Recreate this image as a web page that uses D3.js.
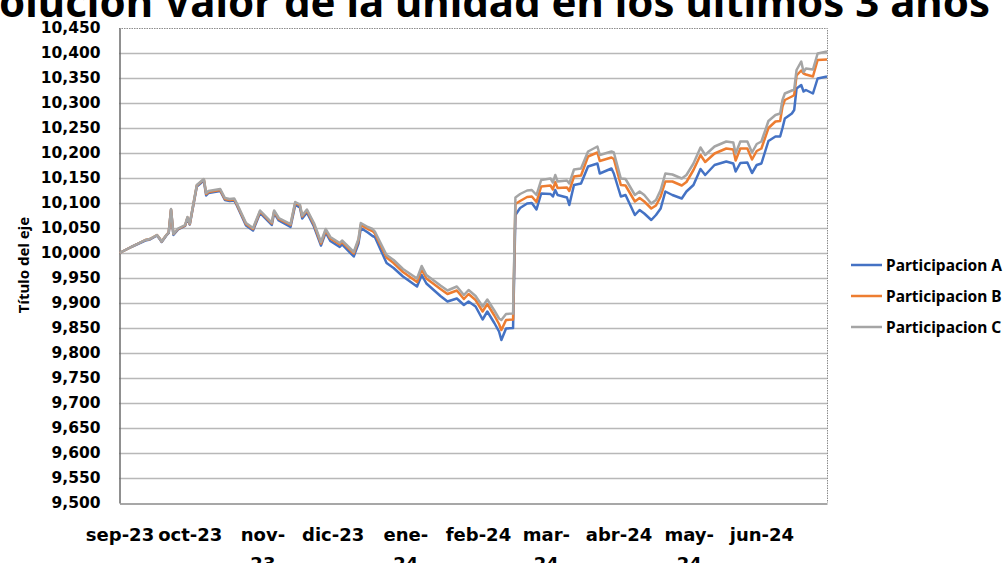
<!DOCTYPE html>
<html>
<head>
<meta charset="utf-8">
<script src="https://cdn.jsdelivr.net/npm/d3@7"></script>
<style>
body { margin: 0; background: #ffffff; overflow: hidden; }
</style>
</head>
<body>
<div id="svg"></div>
<script>
var width = 1005;
var height = 563;
var plot_left = 119;
var plot_right = 827;
var plot_top = 28;
var plot_bottom = 503;

var title_text = 'Evolución Valor de la unidad en los últimos 3 años';
var y_title = 'Título del eje';

var dates = [
	'2023-09-01','2023-09-06','2023-09-12','2023-09-14','2023-09-17','2023-09-18','2023-09-19','2023-09-21','2023-09-22','2023-09-23','2023-09-24','2023-09-26','2023-09-29','2023-09-30',
	'2023-10-01','2023-10-04','2023-10-07','2023-10-08','2023-10-09','2023-10-14','2023-10-16','2023-10-18','2023-10-20','2023-10-21','2023-10-25','2023-10-28','2023-10-31',
	'2023-11-05','2023-11-06','2023-11-08','2023-11-13','2023-11-15','2023-11-17','2023-11-18','2023-11-20','2023-11-23','2023-11-26','2023-11-28','2023-11-30',
	'2023-12-04','2023-12-05','2023-12-10','2023-12-12','2023-12-13','2023-12-16','2023-12-18','2023-12-19','2023-12-24','2023-12-27','2023-12-31',
	'2024-01-06','2024-01-08','2024-01-10','2024-01-16','2024-01-19','2024-01-23','2024-01-26','2024-01-28','2024-01-31',
	'2024-02-03','2024-02-05','2024-02-08','2024-02-10','2024-02-11','2024-02-13','2024-02-16','2024-02-17','2024-02-19','2024-02-22','2024-02-24','2024-02-26','2024-02-28',
	'2024-03-03','2024-03-04','2024-03-05','2024-03-06','2024-03-10','2024-03-11','2024-03-13','2024-03-16','2024-03-19','2024-03-23','2024-03-24','2024-03-29','2024-03-30',
	'2024-04-02','2024-04-04','2024-04-08','2024-04-10','2024-04-12','2024-04-15','2024-04-17','2024-04-19','2024-04-21','2024-04-24','2024-04-28','2024-04-30',
	'2024-05-03','2024-05-06','2024-05-08','2024-05-12','2024-05-17','2024-05-20','2024-05-21','2024-05-23','2024-05-26','2024-05-28','2024-05-30',
	'2024-06-01','2024-06-04','2024-06-07','2024-06-09','2024-06-10','2024-06-11','2024-06-14','2024-06-15','2024-06-16','2024-06-18','2024-06-19','2024-06-20','2024-06-23','2024-06-25','2024-06-29'
];

var part_a = [
	10000,10012,10025,10027,10035,10029,10022,10035,10040,10086,10036,10047,10054,10070,
	10057,10133,10145,10115,10120,10124,10106,10104,10105,10096,10055,10045,10080,
	10056,10080,10065,10052,10096,10091,10069,10081,10053,10015,10041,10024,
	10012,10017,9993,10019,10050,10041,10034,10032,9980,9970,9953,
	9933,9956,9939,9914,9903,9909,9896,9903,9893,
	9867,9883,9860,9843,9826,9849,9850,10076,10090,10099,10100,10087,10119,
	10118,10113,10126,10116,10111,10096,10136,10139,10173,10179,10159,10169,10159,
	10113,10116,10076,10086,10079,10066,10076,10089,10123,10116,10109,10123,
	10136,10168,10156,10176,10183,10179,10163,10180,10181,10160,10176,
	10179,10224,10233,10233,10250,10269,10279,10286,10329,10336,10323,10326,10319,10349,10353
];

var part_b = [
	10000,10012,10026,10028,10036,10030,10023,10036,10041,10087,10038,10048,10055,10071,
	10058,10135,10147,10118,10122,10126,10108,10106,10107,10098,10058,10048,10083,
	10059,10083,10068,10056,10100,10095,10073,10085,10057,10019,10045,10029,
	10017,10022,9999,10025,10056,10048,10044,10039,9991,9980,9962,
	9942,9967,9949,9928,9918,9925,9908,9918,9906,
	9883,9898,9875,9858,9846,9866,9867,10098,10104,10112,10113,10102,10133,
	10135,10127,10142,10130,10131,10124,10153,10155,10193,10201,10184,10191,10188,
	10136,10135,10103,10110,10103,10089,10095,10113,10143,10143,10135,10142,
	10166,10196,10182,10199,10209,10207,10185,10209,10209,10187,10204,
	10209,10250,10263,10264,10293,10306,10313,10316,10355,10365,10359,10357,10353,10386,10387
];

var part_c = [
	10000,10012,10026,10028,10036,10030,10023,10036,10041,10088,10038,10049,10056,10072,
	10059,10136,10148,10120,10124,10128,10110,10108,10109,10100,10060,10050,10085,
	10061,10085,10070,10058,10102,10097,10075,10087,10060,10022,10048,10032,
	10020,10025,10002,10028,10060,10052,10048,10043,9996,9986,9968,
	9949,9974,9956,9935,9925,9933,9916,9926,9914,
	9893,9907,9885,9869,9866,9878,9879,10111,10118,10125,10126,10116,10146,
	10149,10141,10156,10143,10145,10139,10167,10169,10203,10213,10196,10203,10201,
	10149,10148,10116,10123,10116,10099,10106,10126,10159,10157,10149,10156,
	10179,10211,10196,10213,10223,10221,10199,10223,10223,10201,10218,
	10223,10264,10276,10279,10306,10319,10325,10327,10366,10383,10362,10369,10367,10399,10403
];

var series_names = ['Participacion A', 'Participacion B', 'Participacion C'];
var series_colors = ['#4472C4', '#ED7D31', '#A5A5A5'];

var y_ticks = [9500,9550,9600,9650,9700,9750,9800,9850,9900,9950,10000,10050,10100,10150,10200,10250,10300,10350,10400,10450];
var month_ticks = ['2023-09-01','2023-10-01','2023-11-01','2023-12-01','2024-01-01','2024-02-01','2024-03-01','2024-04-01','2024-05-01','2024-06-01'];
var month_labels = [['sep-23'], ['oct-23'], ['nov-', '23'], ['dic-23'], ['ene-', '24'], ['feb-24'], ['mar-', '24'], ['abr-24'], ['may-', '24'], ['jun-24']];

var canvas = d3.select('#svg')
	.append('svg')
	.attr('width', width)
	.attr('height', height);

function main()
{ // main()
	render();
} // End main

function render()
{
	var parse = d3.timeParse('%Y-%m-%d');
	var all_series = [part_a, part_b, part_c];

	var x = d3.scaleTime()
		.domain([parse('2023-09-01'), parse('2024-06-29')])
		.range([plot_left + 0.5, plot_right]);

	var y = d3.scaleLinear()
		.domain([9500, 10450])
		.range([plot_bottom, plot_top]);

	// title, clipped at the top and left like the original
	canvas.append('text')
		.attr('x', 990)
		.attr('y', 17)
		.attr('text-anchor', 'end')
		.style('font-family', '"Noto Sans", sans-serif')
		.style('font-weight', 700)
		.style('font-size', '42px')
		.style('fill', '#000')
		.text(title_text);

	// gridlines
	canvas.append('g')
		.selectAll('line')
		.data(y_ticks.slice(1, -1))
		.enter().append('line')
			.attr('x1', plot_left)
			.attr('x2', plot_right)
			.attr('y1', (d) => Math.round(y(d)) + 0.5)
			.attr('y2', (d) => Math.round(y(d)) + 0.5)
			.style('stroke', '#b8b8b8')
			.style('stroke-width', 1.3);

	// dotted border top and right
	canvas.append('path')
		.attr('d', 'M' + plot_left + ',' + (plot_top + 0.5) + 'H' + (plot_right + 0.5) + 'V' + plot_bottom)
		.style('fill', 'none')
		.style('stroke', '#8c8c8c')
		.style('stroke-width', 1)
		.style('stroke-dasharray', '1.5,1');

	// y axis
	var y_axis = d3.axisLeft(y)
		.tickValues(y_ticks)
		.tickSize(0)
		.tickPadding(19)
		.tickFormat(d3.format(','));

	var gy = canvas.append('g')
		.attr('transform', 'translate(' + (plot_left + 0.5) + ',0)')
		.call(y_axis);
	gy.select('.domain').style('stroke', '#6b6b6b').style('stroke-width', 1.5);
	gy.selectAll('text')
		.style('font-family', '"DejaVu Sans", sans-serif')
		.style('font-weight', 700)
		.style('font-size', '15.5px')
		.style('fill', '#000');

	// x axis
	var x_axis = d3.axisBottom(x)
		.tickValues(month_ticks.map(parse))
		.tickSize(0)
		.tickFormat('');

	var gx = canvas.append('g')
		.attr('transform', 'translate(0,' + (plot_bottom + 0.5) + ')')
		.call(x_axis);
	gx.select('.domain').style('stroke', '#8a8a8a').style('stroke-width', 1.5);

	var label = gx.selectAll('.tick')
		.append('text')
		.attr('text-anchor', 'middle')
		.style('font-family', '"DejaVu Sans", sans-serif')
		.style('font-weight', 700)
		.style('font-size', '18px')
		.style('fill', '#000');

	label.each(function(d, i) {
		var lines = month_labels[i];
		for(var k = 0; k < lines.length; k++)
		{
			d3.select(this).append('tspan')
				.attr('x', 0)
				.attr('y', 37 + k * 29)
				.text(lines[k]);
		}
	});

	// y axis title
	canvas.append('text')
		.attr('transform', 'translate(29,265) rotate(-90)')
		.attr('text-anchor', 'middle')
		.style('font-family', '"Noto Sans", sans-serif')
		.style('font-weight', 700)
		.style('font-size', '15px')
		.style('fill', '#000')
		.text(y_title);

	// series lines
	var line = d3.line()
		.x((d) => x(d.date))
		.y((d) => y(d.value));

	for(var s = 0; s < all_series.length; s++)
	{
		var points = dates.map((d, i) => { return {date: parse(d), value: all_series[s][i]}; });
		canvas.append('path')
			.datum(points)
			.attr('d', line)
			.style('fill', 'none')
			.style('stroke', series_colors[s])
			.style('stroke-width', 2.5)
			.style('stroke-linejoin', 'round');
	}

	// legend
	var legend = canvas.append('g')
		.selectAll('g')
		.data(series_names)
		.enter().append('g')
			.attr('transform', (d, i) => 'translate(851,' + (265 + i * 31) + ')');

	legend.append('line')
		.attr('x1', 0)
		.attr('x2', 31)
		.style('stroke', (d, i) => series_colors[i])
		.style('stroke-width', 2.5);

	legend.append('text')
		.attr('x', 35)
		.attr('dy', '0.36em')
		.style('font-family', '"Noto Sans", sans-serif')
		.style('font-weight', 700)
		.style('font-size', '15.5px')
		.style('fill', '#000')
		.text((d) => d);
} // End render

main();
</script>
</body>
</html>
